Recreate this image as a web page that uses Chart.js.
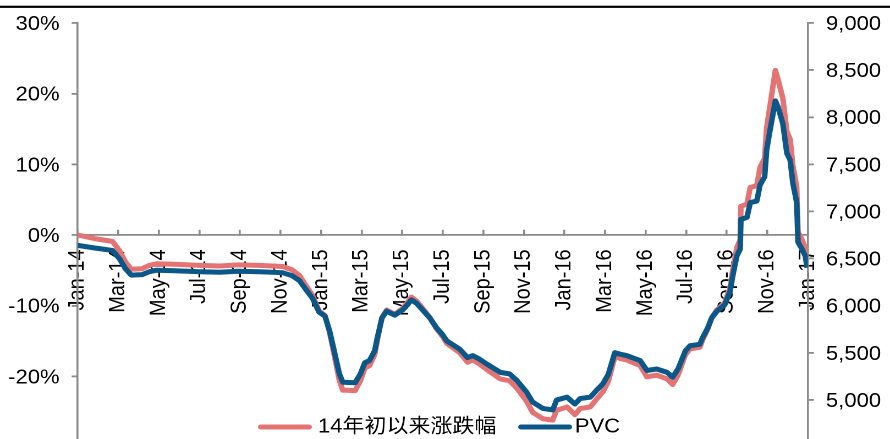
<!DOCTYPE html>
<html>
<head>
<meta charset="utf-8">
<script src="https://cdn.jsdelivr.net/npm/chart.js@4.4.1/dist/chart.umd.min.js"></script>
<style>
  html, body { margin: 0; padding: 0; background: #fff; overflow: hidden; }
  #chart { position: absolute; left: 0; top: 0; }
</style>
</head>
<body>
<!-- drawn 809 wide, shown 890 wide: same wide-set look as the Excel export -->
<canvas id="chart" width="809" height="470" style="width:890px;height:470px"></canvas>
<script>
// PVC spot price (yuan/t) and its change since the start of 2014
const dates = [
  "2014-01-01", "2014-01-27", "2014-02-21", "2014-03-03", "2014-03-12", "2014-03-21", "2014-04-06", "2014-04-17", "2014-04-28", "2014-05-25",
  "2014-07-02", "2014-08-01", "2014-08-29", "2014-09-30", "2014-11-04", "2014-11-18", "2014-11-29", "2014-12-10", "2014-12-19", "2014-12-29",
  "2015-01-07", "2015-01-14", "2015-01-21", "2015-01-29", "2015-02-03", "2015-02-20", "2015-02-27", "2015-03-06", "2015-03-13", "2015-03-21",
  "2015-03-25", "2015-04-01", "2015-04-08", "2015-04-20", "2015-05-02", "2015-05-09", "2015-05-15", "2015-05-23", "2015-06-01", "2015-06-12",
  "2015-06-22", "2015-07-01", "2015-07-07", "2015-07-27", "2015-08-08", "2015-08-16", "2015-08-26", "2015-09-06", "2015-09-26", "2015-10-10",
  "2015-10-21", "2015-11-05", "2015-11-14", "2015-11-29", "2015-12-14", "2015-12-20", "2016-01-05", "2016-01-17", "2016-01-25", "2016-02-09",
  "2016-02-18", "2016-02-27", "2016-03-06", "2016-03-16", "2016-03-24", "2016-04-03", "2016-04-23", "2016-05-03", "2016-05-18", "2016-06-03",
  "2016-06-11", "2016-06-19", "2016-06-30", "2016-07-07", "2016-07-22", "2016-07-26", "2016-08-03", "2016-08-09", "2016-08-17", "2016-08-29",
  "2016-09-06", "2016-09-10", "2016-09-16", "2016-09-21", "2016-09-22", "2016-10-01", "2016-10-06", "2016-10-16", "2016-10-21", "2016-10-28",
  "2016-10-31", "2016-11-05", "2016-11-13", "2016-11-17", "2016-11-24", "2016-11-30", "2016-12-05", "2016-12-09", "2016-12-15", "2016-12-17",
  "2016-12-23", "2016-12-28", "2016-12-31"
];

const change = [
  0, -0.51, -0.90, -2.24, -3.82, -4.84, -4.77, -4.30, -4.06, -4.14,
  -4.30, -4.38, -4.23, -4.30, -4.45, -4.92, -5.72, -7.30, -8.56, -10.76,
  -11.39, -13.75, -16.91, -20.61, -21.95, -22.03, -20.69, -18.81, -18.49, -16.91,
  -14.87, -11.71, -10.61, -11.24, -10.37, -9.57, -8.79, -9.34, -10.37, -11.71,
  -13.29, -14.38, -15.33, -16.67, -18.01, -17.69, -18.25, -19.03, -20.37, -20.61,
  -21.64, -23.53, -25.10, -26.00, -26.20, -24.80, -24.33, -25.43, -24.56, -24.33,
  -23.22, -22.19, -20.70, -17.23, -17.47, -17.69, -18.49, -20.07, -19.83, -20.37,
  -21.16, -19.83, -16.91, -16.12, -15.89, -14.87, -13.29, -11.71, -10.61, -9.57,
  -7.45, -4.92, -1.78, -0.66, 4.06, 4.38, 6.74, 6.98, 9.58, 10.85,
  15.11, 18.25, 23.30, 21.97, 19.37, 14.63, 13.53, 9.90, 6.74, 0.44,
  -0.66, -1.78, -3.66
];

const pvc = [
  6640, 6612, 6586, 6497, 6392, 6324, 6329, 6360, 6376, 6371,
  6360, 6355, 6365, 6360, 6350, 6319, 6266, 6161, 6077, 5931,
  5889, 5732, 5522, 5276, 5187, 5182, 5271, 5396, 5417, 5522,
  5658, 5868, 5941, 5899, 5957, 6010, 6062, 6025, 5957, 5868,
  5763, 5690, 5627, 5538, 5449, 5470, 5433, 5381, 5292, 5276,
  5208, 5082, 4977, 4909, 4893, 4998, 5029, 4956, 5014, 5029,
  5103, 5171, 5270, 5501, 5485, 5470, 5417, 5312, 5328, 5292,
  5240, 5328, 5522, 5575, 5590, 5658, 5763, 5868, 5941, 6010,
  6151, 6319, 6528, 6602, 6916, 6937, 7094, 7110, 7283, 7367,
  7650, 7859, 8174, 8106, 7933, 7618, 7545, 7304, 7094, 6675,
  6602, 6528, 6403
];

const tickLabels = [
  "Jan-14", "Mar-14", "May-14", "Jul-14", "Sep-14", "Nov-14",
  "Jan-15", "Mar-15", "May-15", "Jul-15", "Sep-15", "Nov-15",
  "Jan-16", "Mar-16", "May-16", "Jul-16", "Sep-16", "Nov-16", "Jan-17"
];

const seriesNames = ["14年初以来涨跌幅", "PVC"];

const RED = "#e47474";
const BLUE = "#0b5888";
const AXIS = "#8a8a8a";

// plot box, in canvas units
const AREA = { left: 70.6, right: 734.3, top: 20.7, bottom: 450.5 };

// months since Jan 2014, fractional within the month
function monthIndex(s) {
  const p = s.split("-").map(Number);
  const days = new Date(p[0], p[1], 0).getDate();
  return (p[0] - 2014) * 12 + (p[1] - 1) + (p[2] - 1) / days;
}

Chart.defaults.font.family = '"Liberation Sans", Arial, sans-serif';
Chart.defaults.font.size = 20;
Chart.defaults.color = "#000";

// thick rule across the top of the figure
const topRule = {
  id: "topRule",
  afterDraw(chart) {
    const c = chart.ctx;
    c.save();
    c.fillStyle = "#000";
    c.fillRect(0, 5.7, chart.width, 2.2);
    c.restore();
  }
};

// legend sits inside the plot, near the bottom
const legendItems = {
  id: "legendItems",
  afterDraw(chart) {
    const c = chart.ctx;
    const y = 427;
    const items = [
      { x0: 237, x1: 281, tx: 289 },
      { x0: 473.5, x1: 517.5, tx: 522.5 }
    ];
    c.save();
    c.lineWidth = 5;
    c.lineCap = "round";
    c.font = '20px "Liberation Sans", "Noto Sans CJK SC", sans-serif';
    c.textBaseline = "middle";
    c.fillStyle = "#000";
    chart.data.datasets.forEach((ds, i) => {
      const it = items[i];
      c.strokeStyle = ds.borderColor;
      c.beginPath();
      c.moveTo(it.x0, y);
      c.lineTo(it.x1, y);
      c.stroke();
      c.fillText(ds.label, it.tx, y);
    });
    c.restore();
  }
};

const axisGrid = (len) => ({
  drawOnChartArea: false,
  tickLength: len,
  color: AXIS,
  lineWidth: 1.8
});

new Chart(document.getElementById("chart"), {
  type: "line",
  data: {
    datasets: [
      {
        label: seriesNames[0],
        data: dates.map((d, i) => ({ x: monthIndex(d), y: change[i] })),
        yAxisID: "y",
        borderColor: RED,
        borderWidth: 5,
        borderJoinStyle: "round",
        pointRadius: 0,
        order: 1
      },
      {
        label: seriesNames[1],
        data: dates.map((d, i) => ({ x: monthIndex(d), y: pvc[i] })),
        yAxisID: "y1",
        borderColor: BLUE,
        borderWidth: 5,
        borderJoinStyle: "round",
        pointRadius: 0,
        order: 0
      }
    ]
  },
  options: {
    responsive: false,
    animation: false,
    devicePixelRatio: 2,
    layout: { padding: { top: AREA.top, bottom: 470 - AREA.bottom, left: 0, right: 0 } },
    plugins: { legend: { display: false }, tooltip: { enabled: false } },
    scales: {
      x: {
        type: "linear",
        position: { y: 0 },
        min: 0,
        max: 36,
        ticks: {
          stepSize: 2,
          autoSkip: false,
          minRotation: 90,
          maxRotation: 90,
          padding: 20.4,
          callback: (v) => tickLabels[Math.round(v / 2)]
        },
        grid: axisGrid(-6),
        border: { color: AXIS, width: 1.8 }
      },
      y: {
        position: "left",
        min: -30,
        max: 30,
        ticks: { stepSize: 10, padding: 11, labelOffset: 1.5, callback: (v) => v + "%" },
        grid: axisGrid(5.5),
        border: { color: AXIS, width: 1.8 },
        afterFit: (s) => { s.width = AREA.left; }
      },
      y1: {
        position: "right",
        min: 4500,
        max: 9000,
        ticks: { stepSize: 500, padding: 11, labelOffset: 1.5, callback: (v) => v.toLocaleString("en-US") },
        grid: axisGrid(5.5),
        border: { color: AXIS, width: 1.8 },
        afterFit: (s) => { s.width = 809 - AREA.right; }
      }
    }
  },
  plugins: [topRule, legendItems]
});
</script>
</body>
</html>
